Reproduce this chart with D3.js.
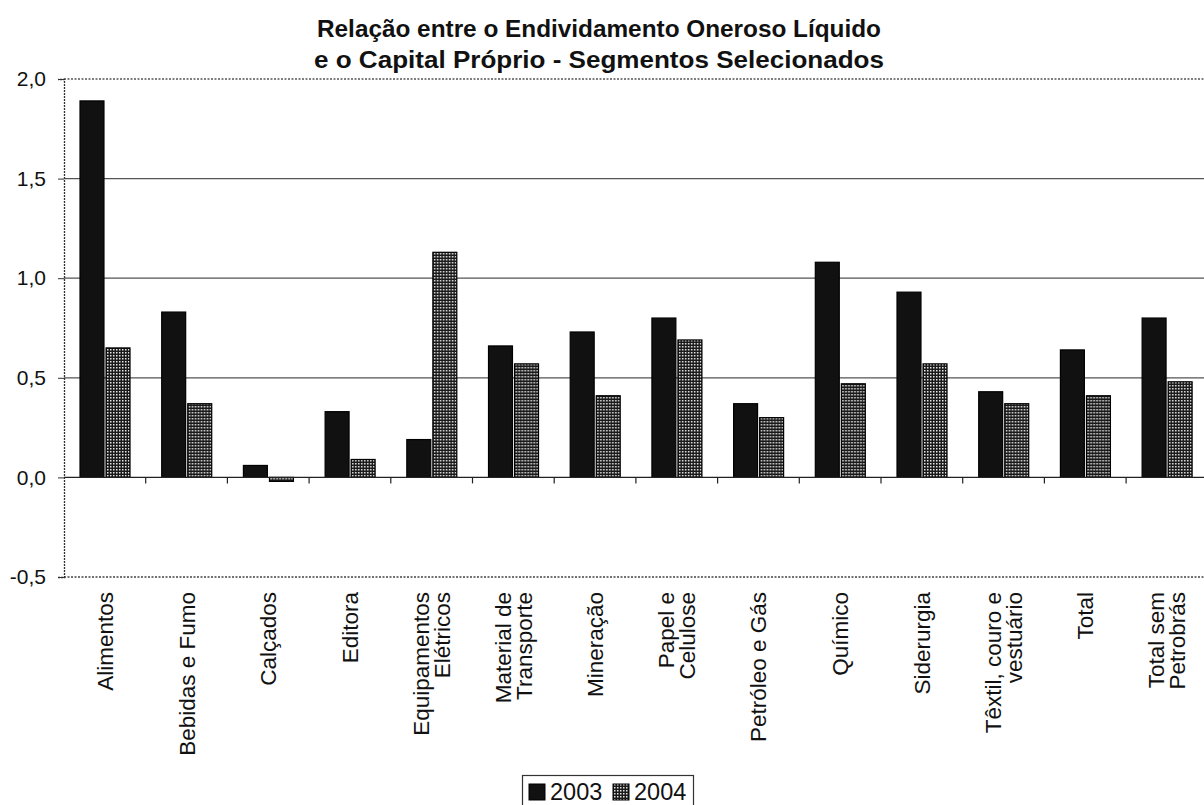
<!DOCTYPE html>
<html><head><meta charset="utf-8">
<script src="https://cdn.jsdelivr.net/npm/d3@7"></script>
<style>html,body{margin:0;padding:0;background:#fff;overflow:hidden}</style>
</head><body>
<svg id="c" width="1204" height="805"></svg>
<script>
const categories = ["Alimentos","Bebidas e Fumo","Calçados","Editora","Equipamentos Elétricos","Material de Transporte","Mineração","Papel e Celulose","Petróleo e Gás","Químico","Siderurgia","Têxtil, couro e vestuário","Total","Total sem Petrobrás"];
const categoryLines = [["Alimentos"],["Bebidas e Fumo"],["Calçados"],["Editora"],["Equipamentos","Elétricos"],["Material de","Transporte"],["Mineração"],["Papel e","Celulose"],["Petróleo e Gás"],["Químico"],["Siderurgia"],["Têxtil, couro e","vestuário"],["Total"],["Total sem","Petrobrás"]];
const series = ["2003","2004"];
const values2003 = [1.89,0.83,0.06,0.33,0.19,0.66,0.73,0.80,0.37,1.08,0.93,0.43,0.64,0.80];
const values2004 = [0.65,0.37,-0.02,0.09,1.13,0.57,0.41,0.69,0.30,0.47,0.57,0.37,0.41,0.48];
const yTicks = [-0.5,0,0.5,1.0,1.5,2.0];
const titleLines = ["Relação entre o Endividamento Oneroso Líquido","e o Capital Próprio - Segmentos Selecionados"];

const svg = d3.select("#c");
const defs = svg.append("defs");
const pat = defs.append("pattern").attr("id","dots").attr("patternUnits","userSpaceOnUse").attr("width",3).attr("height",3);
pat.append("rect").attr("width",3).attr("height",3).attr("fill","#1a1a1a");
pat.append("rect").attr("x",1).attr("y",1).attr("width",1.5).attr("height",1.5).attr("fill","#e6e6e6");

const left = 64, right = 64 + 14*81.7;
const x = d3.scaleBand().domain(categories).range([left, right]);
const bw = x.bandwidth();
const x1 = d3.scaleBand().domain(series).range([0.196*bw, 0.808*bw]).paddingInner(0.08);
const y = d3.scaleLinear().domain([-0.5, 2.0]).range([577, 79]);
const font = "Arial, 'Liberation Sans', Helvetica, sans-serif";

// title
svg.append("g").selectAll("text").data(titleLines).join("text")
  .attr("x", 599).attr("y", (d,i)=>37+i*31)
  .attr("text-anchor","middle").attr("font-family",font).attr("font-weight","bold")
  .attr("font-size",23).attr("fill","#111")
  .attr("textLength",(d,i)=>i===0?564:570).attr("lengthAdjust","spacingAndGlyphs")
  .text(d=>d);

// gridlines
svg.append("g").selectAll("line").data([0.5,1.0,1.5]).join("line")
  .attr("x1",left).attr("x2",1204).attr("y1",d=>y(d)).attr("y2",d=>y(d))
  .attr("stroke","#555").attr("stroke-width",1.2);
// dotted borders
svg.append("line").attr("x1",left).attr("x2",1204).attr("y1",y(2.0)).attr("y2",y(2.0))
  .attr("stroke","#555").attr("stroke-width",1.3).attr("stroke-dasharray","2,1.5");
svg.append("line").attr("x1",left).attr("x2",1204).attr("y1",y(-0.5)).attr("y2",y(-0.5))
  .attr("stroke","#444").attr("stroke-width",1.3).attr("stroke-dasharray","2,1.5");

// y axis
const yAxis = d3.axisLeft(y).tickValues(yTicks).tickSize(6).tickPadding(12)
  .tickFormat(d=>d3.format(".1f")(d).replace(".",",").replace("\u2212","-"));
const gy = svg.append("g").attr("transform",`translate(${left},0)`).call(yAxis);
gy.select(".domain").attr("stroke","#333").attr("stroke-width",1.3).attr("stroke-dasharray","2,1");
gy.selectAll(".tick line").attr("stroke","#333");
gy.selectAll(".tick text").attr("font-family",font).attr("font-size",21).attr("fill","#111");

// bars
const g = svg.append("g");
const data = categories.map((c,i)=>({c, v:[values2003[i], values2004[i]]}));
const grp = g.selectAll("g").data(data).join("g").attr("transform",d=>`translate(${x(d.c)},0)`);
grp.selectAll("rect").data(d=>d.v.map((v,j)=>({s:series[j],v}))).join("rect")
  .attr("x",d=>x1(d.s)).attr("width",x1.bandwidth())
  .attr("y",d=>y(Math.max(0,d.v))).attr("height",d=>Math.abs(y(d.v)-y(0)))
  .attr("fill",d=>d.s==="2003"?"#111":"url(#dots)")
  .attr("stroke","#000").attr("stroke-width",1.2);

// x axis (zero line) with ticks at category boundaries
const bounds = d3.range(1, categories.length).map(i=>x(categories[i]));
svg.append("line").attr("x1",left).attr("x2",1204).attr("y1",y(0)).attr("y2",y(0)).attr("stroke","#222").attr("stroke-width",1.3);
svg.append("g").selectAll("line").data(bounds).join("line")
  .attr("x1",d=>d).attr("x2",d=>d).attr("y1",y(0)).attr("y2",y(0)+6).attr("stroke","#222").attr("stroke-width",1.2);

// category labels
const lab = svg.append("g").selectAll("g").data(categoryLines.map((l,i)=>({l,c:categories[i]}))).join("g");
lab.each(function(d){
  const cx = x(d.c) + bw/2;
  const n = d.l.length;
  d3.select(this).selectAll("text").data(d.l).join("text")
    .attr("transform",(t,j)=>`translate(${cx + (j-(n-1)/2)*21 + 8},592) rotate(-90)`)
    .attr("text-anchor","end").attr("font-family",font).attr("font-size",22.5).attr("fill","#111").text(t=>t);
});

// legend
const lg = svg.append("g");
lg.append("rect").attr("x",522.5).attr("y",775.5).attr("width",171).attr("height",34).attr("fill","#fff").attr("stroke","#333").attr("stroke-width",1.2);
const li = lg.selectAll("g").data(series).join("g").attr("transform",(d,i)=>`translate(${529+i*84},0)`);
li.append("rect").attr("x",0).attr("y",784).attr("width",16).attr("height",16)
  .attr("fill",d=>d==="2003"?"#111":"url(#dots)").attr("stroke","#000");
li.append("text").attr("x",21).attr("y",800).attr("font-family",font).attr("font-size",23.5).attr("fill","#111").text(d=>d);
</script>
</body></html>
